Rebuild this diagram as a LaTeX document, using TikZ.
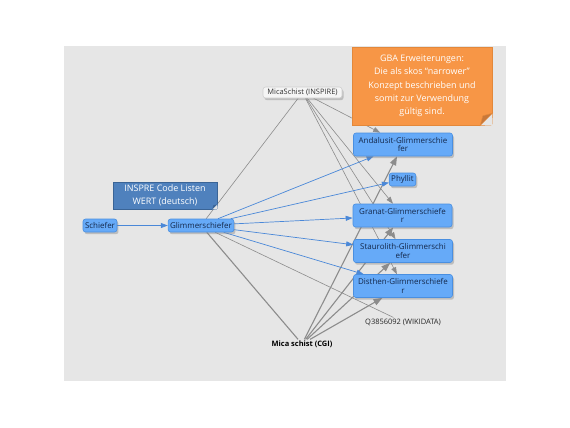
\documentclass[tikz,border=0pt]{standalone}
\usepackage{fontspec}
\setmainfont{Open Sans}
\usetikzlibrary{arrows.meta,shadows}
\pgfdeclarelayer{bg}\pgfdeclarelayer{edges}\pgfsetlayers{bg,edges,main}
\definecolor{bgray}{HTML}{E6E6E6}
\definecolor{nblue}{HTML}{66AAF8}
\definecolor{nborder}{HTML}{4A8FE0}
\definecolor{ntext}{HTML}{14284B}
\definecolor{eblue}{HTML}{4A88D8}
\definecolor{egray}{HTML}{8C8C8C}
\definecolor{ofill}{HTML}{F79646}
\definecolor{oborder}{HTML}{E3883A}
\definecolor{ofold}{HTML}{C8783A}
\definecolor{ibfill}{HTML}{4F81BD}
\definecolor{ibborder}{HTML}{3A6496}
\definecolor{ifill}{HTML}{F5F5F5}
\definecolor{iborder}{HTML}{CFCFCF}
\begin{document}
\begin{tikzpicture}[x=1bp,y=-1bp,
  concept/.style={draw=nborder, fill=nblue, rounded corners=2.5bp, line width=0.6bp,
    text=ntext, font=\fontsize{8}{8.4}\selectfont, inner xsep=2bp, inner ysep=1bp,
    minimum height=13bp, align=center,
    drop shadow={opacity=0.4, shadow xshift=1.5bp, shadow yshift=-2.2bp}},
  wide/.style={concept, minimum width=99bp, minimum height=23bp},
  inspire/.style={draw=iborder, fill=ifill, rounded corners=2.5bp, line width=0.6bp,
    text=black!80, font=\fontsize{7.5}{9}\selectfont, inner xsep=2bp, inner ysep=1bp,
    minimum height=11bp, minimum width=79bp,
    drop shadow={opacity=0.4, shadow xshift=1.5bp, shadow yshift=-2.2bp}},
  plain/.style={font=\fontsize{7.5}{9}\selectfont, text=black!85, inner sep=1bp},
  notebox/.style={fill=ofill, draw=oborder, line width=0.6bp, text=white,
    font=\fontsize{9}{13.3}\selectfont, align=center, minimum width=140bp, minimum height=78bp},
  listbox/.style={fill=ibfill, draw=ibborder, line width=0.6bp, text=white,
    font=\fontsize{9}{13.3}\selectfont, align=center, minimum width=104bp, minimum height=27bp, inner sep=1bp},
  tip/.style={-{Triangle[length=7bp,width=5bp]}},
  bigtip/.style={-{Triangle[length=9bp,width=6.5bp]}},
  blueedge/.style={eblue, line width=0.7bp, tip},
  grayedge/.style={egray, line width=0.6bp},
  cgiedge/.style={egray, line width=1.1bp}]
\useasboundingbox (0,0) rectangle (570,427);
\begin{pgfonlayer}{bg}
  \fill[white] (0,0) rectangle (570,427);
  \fill[bgray] (64,46) rectangle (506,381);
\end{pgfonlayer}

\node[concept] (schiefer) at (100,225.5) {Schiefer};
\node[concept] (glimmer) at (201,225.5) {Glimmerschiefer};
\node[wide] (anda) at (403,144.5) {Andalusit-Glimmerschie\\fer};
\node[concept] (phyl) at (402.5,179.5) {Phyllit};
\node[wide] (gran) at (402.5,215.5) {Granat-Glimmerschiefe\\r};
\node[wide] (stau) at (403,251) {Staurolith-Glimmerschi\\efer};
\node[wide] (dist) at (403,286) {Disthen-Glimmerschiefe\\r};
\node[inspire] (insp) at (302.5,92.5) {MicaSchist (INSPIRE)};
\node[plain] (wiki) at (403,322) {Q3856092 (WIKIDATA)};
\node[plain, font=\fontsize{7.5}{9}\selectfont\bfseries, text=black] (cgi) at (302,344) {Mica schist (CGI)};

\node[notebox] (gba) at (422,86) {GBA Erweiterungen:\\Die als skos “narrower”\\Konzept beschrieben und\\somit zur Verwendung\\gültig sind.};
\fill[bgray] ([yshift=12bp]gba.south east) -- ([xshift=0.5bp,yshift=-0.5bp]gba.south east) -- ([xshift=-12bp]gba.south east) -- cycle;
\fill[ofold, draw=oborder, line width=0.5bp] ([yshift=12bp]gba.south east) -- ([xshift=-12bp]gba.south east) -- ([xshift=-9.5bp,yshift=9.5bp]gba.south east) -- cycle;

\node[listbox] (list) at (165,195.5) {INSPRE Code Listen\\WERT (deutsch)};
\fill[bgray] ([yshift=5bp]list.south east) -- ([xshift=0.5bp,yshift=-0.5bp]list.south east) -- ([xshift=-5bp]list.south east) -- cycle;
\fill[ibborder] ([yshift=5bp]list.south east) -- ([xshift=-5bp]list.south east) -- ([xshift=-4bp,yshift=4bp]list.south east) -- cycle;

\begin{pgfonlayer}{edges}
  \draw[grayedge] (glimmer) -- (insp);
  \draw[cgiedge] (glimmer) -- (cgi);
  \draw[grayedge] (glimmer) -- (wiki);
  \draw[grayedge, tip] (insp) -- (anda);
  \draw[grayedge, tip] (insp) -- (gran);
  \draw[grayedge, tip] (insp) -- (stau);
  \draw[grayedge, tip] (insp) -- (dist);
  \draw[cgiedge, bigtip] (cgi) -- (anda);
  \draw[cgiedge, bigtip] (cgi) -- (gran);
  \draw[cgiedge, bigtip] (cgi) -- (stau);
  \draw[cgiedge, bigtip] (cgi) -- (dist);
  \draw[blueedge] (schiefer) -- (glimmer);
  \draw[blueedge] (glimmer) -- (anda);
  \draw[blueedge] (glimmer) -- (phyl);
  \draw[blueedge] (glimmer) -- (gran);
  \draw[blueedge] (glimmer) -- (stau);
  \draw[blueedge] (glimmer) -- (dist);
\end{pgfonlayer}
\end{tikzpicture}
\end{document}
